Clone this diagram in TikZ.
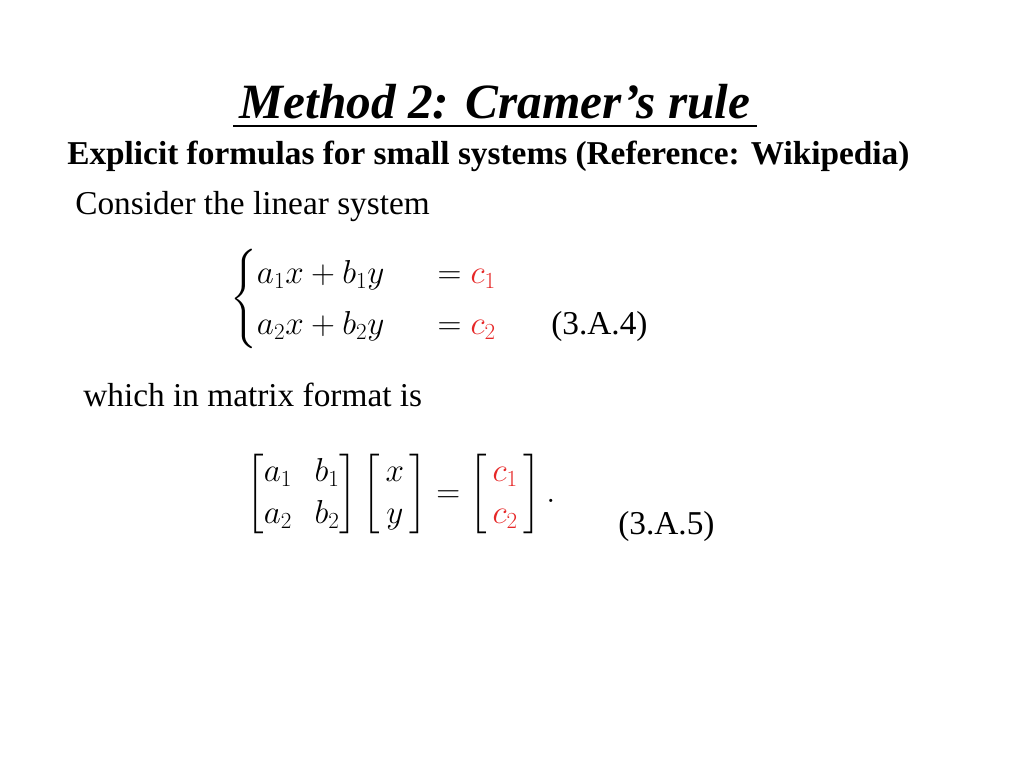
\documentclass[tikz,border=0pt]{standalone}
\usepackage{fontspec}
\usepackage{amsmath}
\setmainfont{Liberation Serif}
\definecolor{cred}{RGB}{230,40,40}
\begin{document}
\begin{tikzpicture}[x=0.75pt,y=-0.75pt,
  txt/.style={anchor=base west,inner sep=0pt,font=\fontsize{25}{30}\selectfont},
  eq/.style={anchor=west,inner sep=0pt,font=\fontsize{26}{32}\selectfont}]
\useasboundingbox (0,0) rectangle (1024,768);
\node[anchor=base,inner sep=0pt,font=\fontsize{37}{44}\selectfont\bfseries\itshape] (title) at (495,118) {Method 2: Cramer’s rule};
\draw[line width=1.8pt] (233,126) -- (757,126);
\node[txt,font=\fontsize{25}{30}\selectfont\bfseries] (sub) at (67,164) {Explicit formulas for small systems (Reference: Wikipedia)};
\node[txt] (c1) at (75,214) {Consider the linear system};
\node[eq] (sys) at (230,299) {\renewcommand\arraystretch{0.85}$\begin{cases} a_1x+b_1y &\;\;= \textcolor{cred}{c_1}\\ a_2x+b_2y &\;\;= \textcolor{cred}{c_2}\end{cases}$};
\node[txt] (n4) at (551,334) {(3.A.4)};
\node[txt] (c2) at (83,406) {which in matrix format is};
\node[eq] (mat) at (246,494) {$\begin{bmatrix} a_1 & \;b_1\\ a_2 & \;b_2\end{bmatrix}\begin{bmatrix} \,x\,\\ \,y\,\end{bmatrix}=\begin{bmatrix}\,\textcolor{cred}{c_1}\,\\ \,\textcolor{cred}{c_2}\,\end{bmatrix}.$};
\node[txt] (n5) at (618,534) {(3.A.5)};
\end{tikzpicture}
\end{document}
